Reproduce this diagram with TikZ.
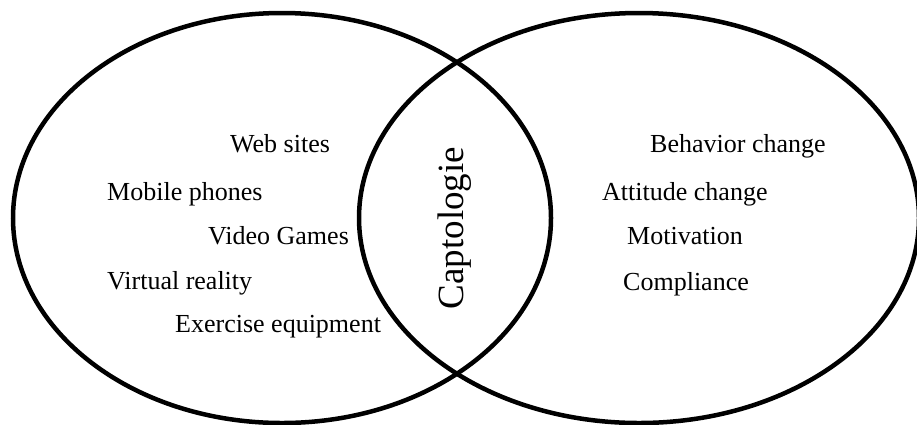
\documentclass[tikz,border=0pt]{standalone}
\usepackage{fontspec}
\setmainfont{Liberation Serif}
\begin{document}
\begin{tikzpicture}[x=1pt,y=-1pt,
  ring/.style={line width=4.5pt},
  item/.style={anchor=base west,inner sep=0pt,font=\fontsize{26}{30}\selectfont},
  core/.style={anchor=base,inner sep=0pt,rotate=90,font=\fontsize{37}{42}\selectfont}]
\useasboundingbox (0,0) rectangle (917,424);
\draw[ring] (282,218) ellipse [x radius=269pt, y radius=205pt];
\draw[ring] (639,218) ellipse [x radius=280pt, y radius=205pt];
\node[item] (web) at (230,152) {Web sites};
\node[item] (mob) at (107,200) {Mobile phones};
\node[item] (vid) at (208,244) {Video Games};
\node[item] (vr) at (107,289) {Virtual reality};
\node[item] (ex) at (175,332) {Exercise equipment};
\node[item] (beh) at (650,152) {Behavior change};
\node[item] (att) at (602,200) {Attitude change};
\node[item] (mot) at (627,244) {Motivation};
\node[item] (com) at (623,290) {Compliance};
\node[core] (cap) at (463,228) {Captologie};
\end{tikzpicture}
\end{document}
